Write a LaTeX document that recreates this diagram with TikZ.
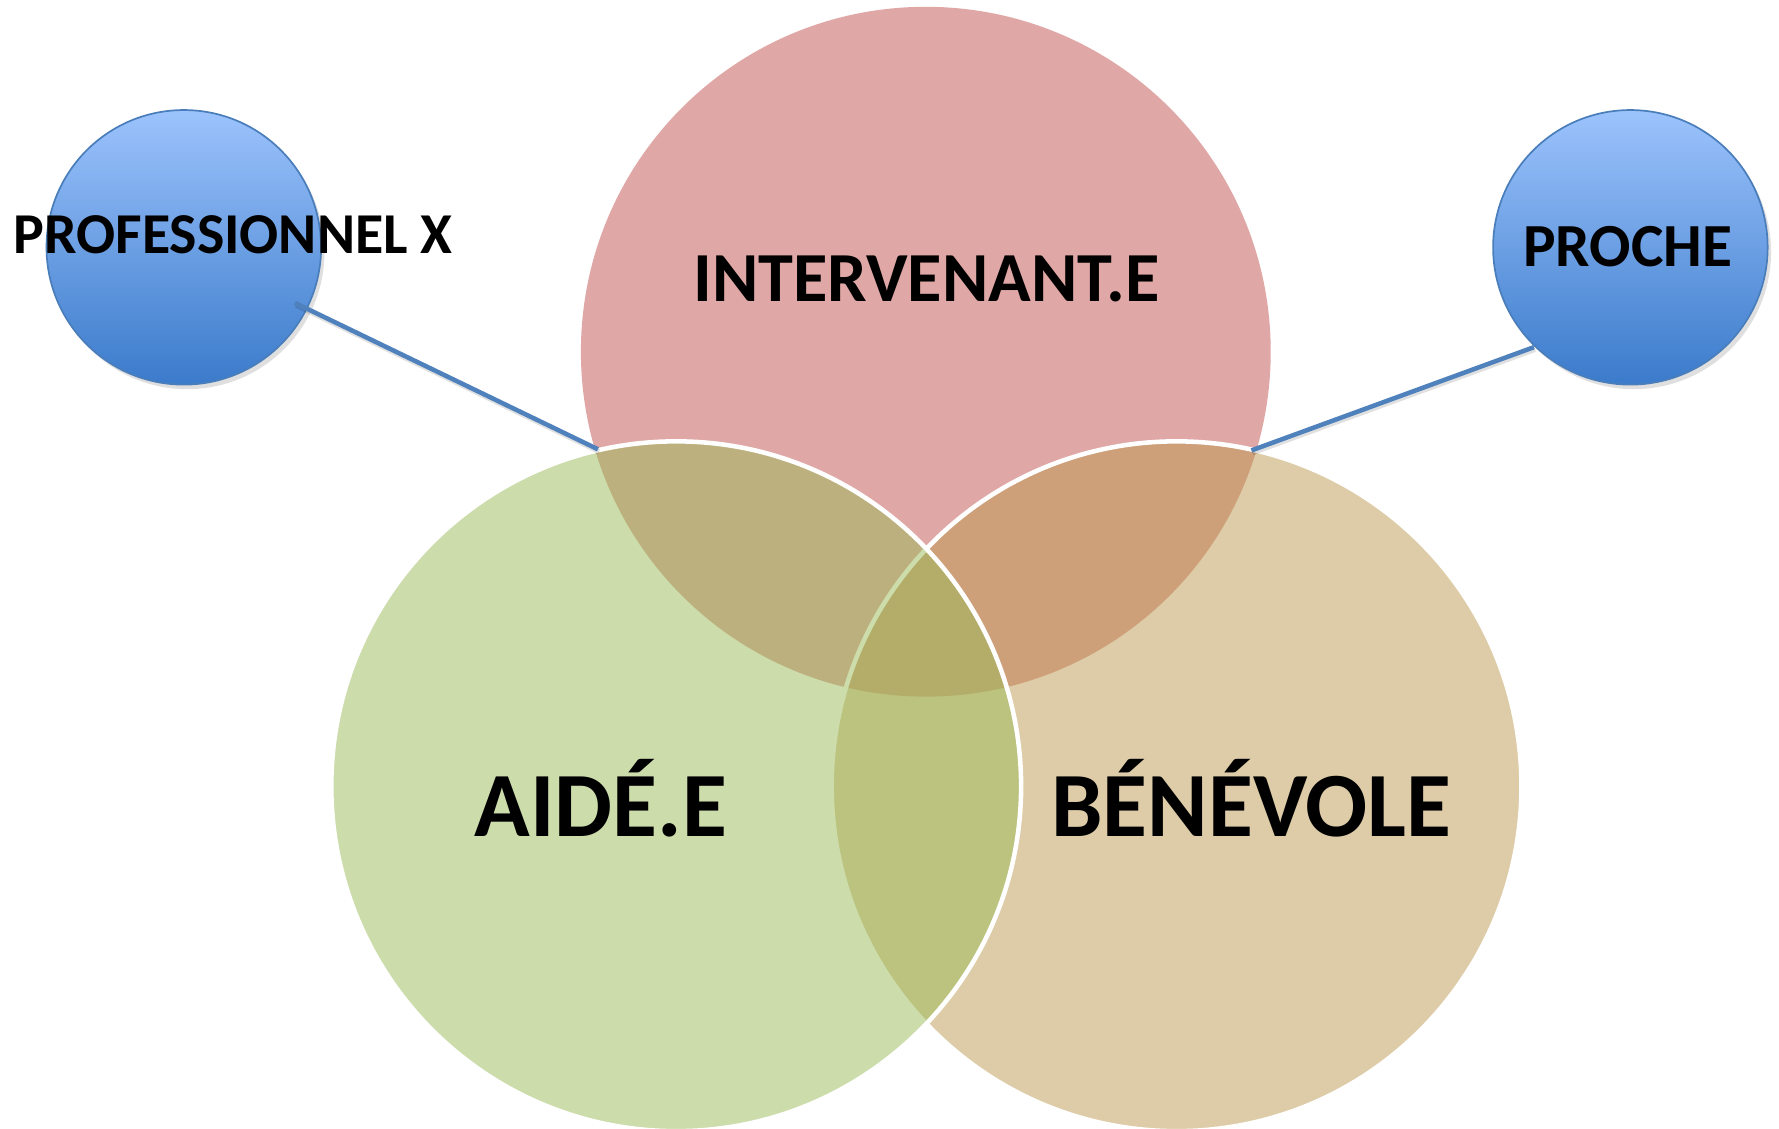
\documentclass[tikz,border=0pt]{standalone}
\usepackage{fontspec}
\setmainfont{Carlito}
\usetikzlibrary{shadows}
\definecolor{redC}{HTML}{C0504D}
\definecolor{greenC}{HTML}{9BBB59}
\definecolor{tanC}{RGB}{189,155,81}
\definecolor{blueL}{HTML}{9CC3FC}
\definecolor{blueD}{HTML}{3B7BCB}
\definecolor{blueB}{HTML}{4A7EBB}
\definecolor{lineC}{HTML}{4F81BD}
\tikzset{
  venn/.style={circle, minimum size=608pt, inner sep=0pt, outer sep=0pt,
    fill opacity=0.5, draw=white, line width=4pt},
  bubble/.style={circle, minimum size=242pt, inner sep=0pt, outer sep=0pt,
    top color=blueL, bottom color=blueD, draw=blueB, line width=1.5pt,
    drop shadow={opacity=0.25, shadow xshift=3pt, shadow yshift=-4pt}},
  lbl/.style={anchor=base, inner sep=0pt, font=\bfseries},
  link/.style={draw=lineC, line width=4pt},
  linkshadow/.style={draw=black, opacity=0.12, line width=4.5pt}
}
\begin{document}
\begin{tikzpicture}[x=1pt, y=-1pt]
\useasboundingbox (0,0) rectangle (1568,995);
\fill[white] (0,0) rectangle (1568,995);
\clip (0,0) rectangle (1568,995);
% Venn circles
\node[venn, fill=redC, draw=none] (int) at (816,310) {};
\node[venn, fill=tanC] (ben) at (1037,693) {};
\node[venn, fill=greenC] (aid) at (596,693) {};
% small circles
\node[bubble] (prof) at (162,218) {};
\node[bubble] (proche) at (1437,218) {};
% connector end points
\coordinate (profin) at (260,267);
\coordinate (ajoin) at (527,396);
\coordinate (prochein) at (1352,306);
\coordinate (bjoin) at (1103,397);
\draw[linkshadow] ([shift={(1,2)}]profin) -- ([shift={(1,2)}]ajoin);
\draw[linkshadow] ([shift={(1,2)}]prochein) -- ([shift={(1,2)}]bjoin);
\draw[link] (profin) -- (ajoin);
\draw[link] (prochein) -- (bjoin);
% labels
\node[lbl, font=\bfseries\fontsize{62}{70}\selectfont] (tint) at (816.5,266) {INTERVENANT.E};
\node[lbl, font=\bfseries\fontsize{81}{90}\selectfont] (taid) at (529.5,737) {AIDÉ.E};
\node[lbl, font=\bfseries\fontsize{81}{90}\selectfont] (tben) at (1103,737) {BÉNÉVOLE};
\node[lbl, font=\bfseries\fontsize{54}{60}\selectfont] (tproche) at (1434.5,234.5) {PROCHE};
\node[lbl, font=\bfseries\fontsize{51}{58}\selectfont] (tprof) at (205.5,223) {PROFESSIONNEL X};
\end{tikzpicture}
\end{document}
